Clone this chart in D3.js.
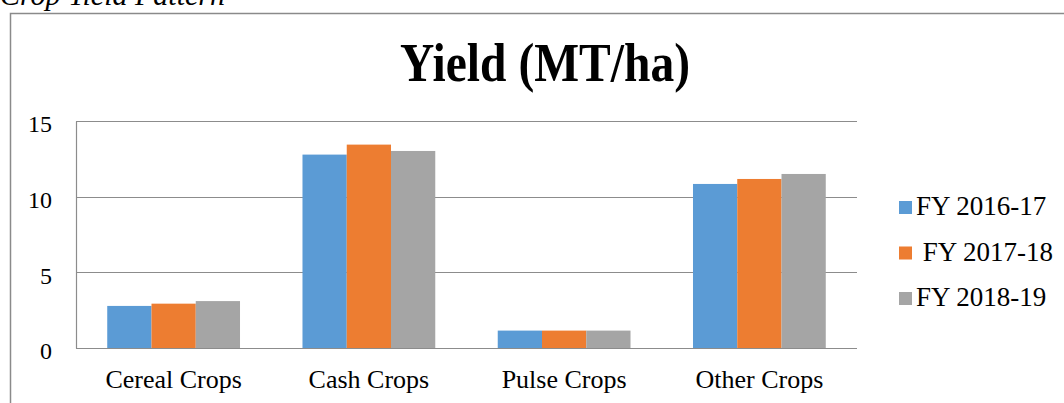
<!DOCTYPE html>
<html>
<head>
<meta charset="utf-8">
<script src="https://cdn.jsdelivr.net/npm/d3@7"></script>
<style>
	body { margin: 0; background: #fff; }
	svg { display: block; }
	text { font-family: "Liberation Serif", "Times New Roman", serif; fill: #000; }
</style>
</head>
<body>
<div id="app"></div>
<script>
const categories = ['Cereal Crops', 'Cash Crops', 'Pulse Crops', 'Other Crops'];
const seriesNames = ['FY 2016-17', ' FY 2017-18', 'FY 2018-19'];
const fy1617 = [2.78, 12.78, 1.15, 10.84];
const fy1718 = [2.93, 13.44, 1.15, 11.17];
const fy1819 = [3.1, 13.02, 1.15, 11.5];
const yTicks = [0, 5, 10, 15];
const colors = ['#5b9bd5', '#ed7d31', '#a5a5a5'];

const series = [fy1617, fy1718, fy1819];

const width = 1064, height = 403;
const margin = { top: 121, right: 207, bottom: 55, left: 76 };
const plotW = width - margin.left - margin.right,
	plotH = height - margin.top - margin.bottom;

const svg = d3.select('#app').append('svg')
	.attr('width', width)
	.attr('height', height);

// caption cut off at the top of the crop
svg.append('text')
	.attr('x', 0)
	.attr('y', 5)
	.style('font-style', 'italic')
	.style('font-size', '30px')
	.text('Crop Yield Pattern');

// chart frame, runs off the right and bottom
svg.append('rect')
	.attr('x', 10.5)
	.attr('y', 13.5)
	.attr('width', 1100)
	.attr('height', 450)
	.attr('fill', 'none')
	.attr('stroke', '#8a8a8a')
	.attr('stroke-width', 1.5);

svg.append('text')
	.attr('x', 545)
	.attr('y', 81)
	.attr('text-anchor', 'middle')
	.attr('textLength', 290)
	.attr('lengthAdjust', 'spacingAndGlyphs')
	.style('font-weight', 'bold')
	.style('font-size', '54px')
	.text('Yield (MT/ha)');

const g = svg.append('g')
	.attr('transform', `translate(${ margin.left },${ margin.top })`);

const x0 = d3.scaleBand()
	.domain(categories)
	.range([0, plotW])
	.paddingInner(0.32)
	.paddingOuter(0.16);

const x1 = d3.scaleBand()
	.domain(d3.range(series.length))
	.range([0, x0.bandwidth()]);

const y = d3.scaleLinear()
	.domain([0, 15])
	.range([plotH, 0]);

// gridlines
g.append('g')
	.selectAll('line')
	.data(yTicks)
	.enter().append('line')
	.attr('x1', 0)
	.attr('x2', plotW)
	.attr('y1', d => Math.round(y(d)) + 0.5)
	.attr('y2', d => Math.round(y(d)) + 0.5)
	.attr('stroke', '#8c8c8c')
	.attr('stroke-width', 1.2);

g.append('line')
	.attr('x1', 0.5).attr('x2', 0.5)
	.attr('y1', Math.round(y(15)) + 0.5)
	.attr('y2', Math.round(y(0)) + 0.5)
	.attr('stroke', '#8c8c8c')
	.attr('stroke-width', 1.2);

const yAxis = d3.axisLeft(y)
	.tickValues(yTicks)
	.tickSize(0)
	.tickPadding(24);
g.append('g')
	.classed('y axis', true)
	.call(yAxis)
	.call(a => a.select('.domain').remove())
	.selectAll('text')
	.attr('dy', '0.45em')
	.style('font-size', '24px');

const xAxis = d3.axisBottom(x0)
	.tickSize(0)
	.tickPadding(22);
g.append('g')
	.classed('x axis', true)
	.attr('transform', `translate(0,${ plotH })`)
	.call(xAxis)
	.call(a => a.select('.domain').remove())
	.selectAll('text')
	.style('font-size', '26px');

// bars
const groups = g.selectAll('.cat')
	.data(categories)
	.enter().append('g')
	.attr('class', 'cat')
	.attr('transform', d => `translate(${ x0(d) },0)`);

groups.selectAll('rect')
	.data((d, i) => series.map((s, j) => ({ j, v: s[i] })))
	.enter().append('rect')
	.attr('x', d => x1(d.j))
	.attr('width', x1.bandwidth())
	.attr('y', d => y(d.v))
	.attr('height', d => y(0) - y(d.v))
	.attr('fill', d => colors[d.j]);

// legend
const legend = svg.append('g')
	.attr('transform', 'translate(899,201)');

const items = legend.selectAll('g')
	.data(seriesNames)
	.enter().append('g')
	.attr('transform', (d, i) => `translate(0,${ i * 45.5 })`);

items.append('rect')
	.attr('width', 13)
	.attr('height', 13)
	.attr('fill', (d, i) => colors[i]);

items.append('text')
	.attr('x', 17)
	.attr('y', 14)
	.attr('xml:space', 'preserve')
	.style('white-space', 'pre')
	.style('font-size', '27px')
	.text(d => d);
</script>
</body>
</html>
